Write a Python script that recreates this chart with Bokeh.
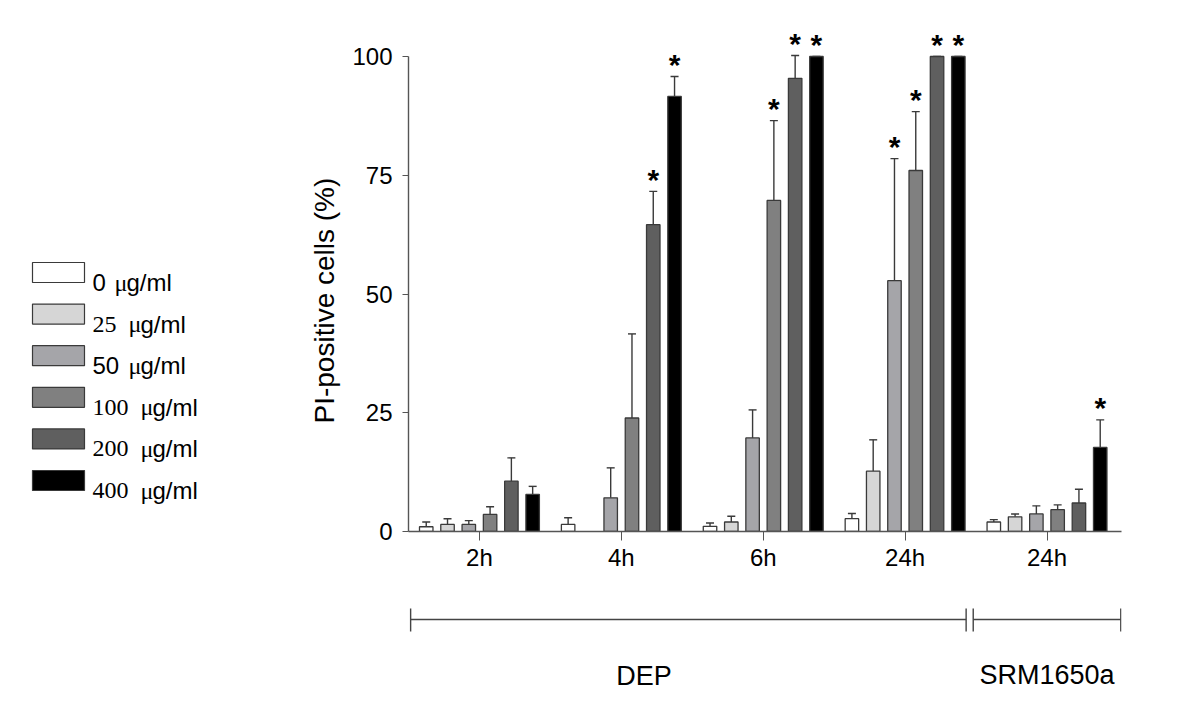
from bokeh.plotting import figure
from bokeh.models import Range1d, FixedTicker, Whisker, TeeHead, ColumnDataSource, Title
from bokeh.layouts import row, column
from bokeh.core.properties import value
from bokeh.embed import file_html
from bokeh.resources import INLINE

# ---------------- data ----------------
group_labels = ["2h", "4h", "6h", "24h", "24h"]
concentrations = [0, 25, 50, 100, 200, 400]
unit_label = "\u03bcg/ml"

mean_0 = [1.0, 1.5, 1.1, 2.7, 2.0]
mean_25 = [1.5, None, 2.0, 12.7, 3.1]
mean_50 = [1.5, 7.1, 19.7, 52.8, 3.7]
mean_100 = [3.6, 23.9, 69.7, 76.0, 4.6]
mean_200 = [10.6, 64.6, 95.4, 100.0, 6.0]
mean_400 = [7.8, 91.6, 100.0, 100.0, 17.7]

err_0 = [1.0, 1.4, 0.7, 1.1, 0.5]
err_25 = [1.2, None, 1.2, 6.6, 0.6]
err_50 = [0.8, 6.3, 5.9, 25.7, 1.7]
err_100 = [1.6, 17.7, 16.8, 12.4, 1.0]
err_200 = [4.9, 7.0, 4.8, 0.0, 2.9]
err_400 = [1.7, 4.2, 0.0, 0.0, 5.8]

sig_0 = [0, 0, 0, 0, 0]
sig_25 = [0, 0, 0, 0, 0]
sig_50 = [0, 0, 0, 1, 0]
sig_100 = [0, 0, 1, 1, 0]
sig_200 = [0, 1, 1, 1, 0]
sig_400 = [0, 1, 1, 1, 1]

y_ticks = [0, 25, 50, 75, 100]
y_label = "PI-positive cells (%)"
bracket_labels = ["DEP", "SRM1650a"]

means = [mean_0, mean_25, mean_50, mean_100, mean_200, mean_400]
errs = [err_0, err_25, err_50, err_100, err_200, err_400]
sigs = [sig_0, sig_25, sig_50, sig_100, sig_200, sig_400]

# ---------------- styling ----------------
fills = ["#ffffff", "#d6d6d6", "#a5a5a9", "#808080", "#5f5f5f", "#000000"]
edge = "#3a3a3a"
SANS = "Liberation Sans"
SERIF = "Liberation Serif"
num_fonts = [SANS, SERIF, SANS, SERIF, SERIF, SERIF]

PX_PER_UNIT = 4.75
FRAME_H = 501
X_END = 4.525
FRAME_W = 713
LEG_W = 298
MAIN_W, MAIN_H = 894, 591
LEFT_B, TOP_B = 110, 30
RIGHT_B = MAIN_W - LEFT_B - FRAME_W
BR_H = 105

slot = 0.15
bar_w = 0.095

# ---------------- main chart ----------------
xr = Range1d(-0.5, X_END)
p = figure(width=MAIN_W, height=MAIN_H,
           x_range=xr, y_range=Range1d(0, FRAME_H / PX_PER_UNIT),
           output_backend="svg", toolbar_location=None,
           min_border_left=LEFT_B, min_border_right=RIGHT_B,
           min_border_top=TOP_B, min_border_bottom=MAIN_H - TOP_B - FRAME_H,
           outline_line_color=None)
p.xgrid.visible = False
p.ygrid.visible = False

for j, (m, e, s) in enumerate(zip(means, errs, sigs)):
    xs, tops, ups, sx, sy = [], [], [], [], []
    for g in range(len(group_labels)):
        if m[g] is None:
            continue
        x = g + (j - 2.5) * slot
        xs.append(x)
        tops.append(m[g])
        ups.append(m[g] + e[g])
        if s[g]:
            sx.append(x)
            sy.append(m[g] + e[g])
    src = ColumnDataSource(dict(x=xs, top=tops, upper=ups))
    p.vbar(x="x", top="top", bottom=0, width=bar_w, source=src,
           fill_color=fills[j], line_color=edge, line_width=1.3)
    w = Whisker(base="x", lower="top", upper="upper", source=src, dimension="height",
                line_color="#3a3a3a", line_width=1.4,
                upper_head=TeeHead(size=8, line_color="#3a3a3a", line_width=1.4),
                lower_head=None)
    p.add_layout(w)
    if sx:
        p.text(x=sx, y=sy, text=["*"] * len(sx), text_align="center",
               text_baseline="alphabetic", y_offset=-12,
               text_font=value(SANS), text_font_size="30px", text_font_style="bold",
               text_color="black")

yax = p.yaxis[0]
yax.ticker = FixedTicker(ticks=y_ticks)
yax.bounds = (0, 100)
yax.axis_line_color = "#555555"
yax.axis_line_width = 1.4
yax.major_tick_line_color = "#555555"
yax.major_tick_out = 6
yax.major_tick_in = 0
yax.minor_tick_line_color = None
yax.major_label_text_font = SANS
yax.major_label_text_font_size = "24px"
yax.major_label_text_color = "black"
yax.major_label_standoff = 10

# y-axis title, placed along the 0-100 part of the axis
ytitle = Title(text=y_label, align="left", offset=108, standoff=16, vertical_align="top",
               text_font=SANS, text_font_size="28px", text_font_style="normal",
               text_color="black")
p.add_layout(ytitle, "left")

xax = p.xaxis[0]
xax.ticker = FixedTicker(ticks=list(range(len(group_labels))))
xax.major_label_overrides = {i: lab for i, lab in enumerate(group_labels)}
xax.axis_line_color = "#555555"
xax.axis_line_width = 1.4
xax.major_tick_line_color = "#555555"
xax.major_tick_out = 9
xax.major_tick_in = 0
xax.minor_tick_line_color = None
xax.major_label_text_font = SANS
xax.major_label_text_font_size = "24px"
xax.major_label_text_color = "black"
xax.major_label_standoff = 3

# ---------------- bracket under the chart (frame aligned with chart) ----------------
b = figure(width=MAIN_W, height=BR_H, x_range=xr, y_range=Range1d(BR_H, 0),
           x_axis_type=None, y_axis_type=None,
           min_border_left=LEFT_B, min_border_right=RIGHT_B,
           min_border_top=0, min_border_bottom=0,
           outline_line_color=None, toolbar_location=None, output_backend="svg")
b.xgrid.visible = False
b.ygrid.visible = False
seg_x0 = [-0.485, 3.48]
seg_x1 = [3.43, 4.52]
b.segment(x0=seg_x0, y0=[28, 28], x1=seg_x1, y1=[28, 28], line_color="#444444", line_width=1.4)
tick_x = [-0.485, 3.43, 3.48, 4.52]
b.segment(x0=tick_x, y0=[17] * 4, x1=tick_x, y1=[40] * 4, line_color="#444444", line_width=1.4)
b.text(x=[1.16, 4.0], y=[84, 83], text=bracket_labels, text_align="center",
       text_baseline="alphabetic", text_font=value(SANS), text_font_size="27px",
       text_color="black")

# ---------------- legend panel ----------------
TOT_H = MAIN_H + BR_H
L = figure(width=LEG_W, height=TOT_H,
           x_range=Range1d(0, LEG_W), y_range=Range1d(TOT_H, 0),
           x_axis_type=None, y_axis_type=None, min_border=0,
           outline_line_color=None, toolbar_location=None, output_backend="svg")
L.xgrid.visible = False
L.ygrid.visible = False
pitch = 41.6
box_tops = [262 + k * pitch for k in range(len(concentrations))]
L.quad(left=[32] * 6, right=[84] * 6, top=box_tops, bottom=[t + 20 for t in box_tops],
       fill_color=fills, line_color=edge, line_width=1.2)
mu_x = [114, 128, 128, 140, 140, 140]
for k, c in enumerate(concentrations):
    base = box_tops[k] + 20
    L.text(x=[92], y=[base], text=[str(c)], text_align="left", text_baseline="alphabetic",
           text_font=value(num_fonts[k]), text_font_size="24px", text_color="black")
    L.text(x=[mu_x[k]], y=[base], text=[unit_label[0]], text_align="left",
           text_baseline="alphabetic", text_font=value(SERIF), text_font_size="24px",
           text_color="black")
    L.text(x=[mu_x[k] + 12], y=[base], text=[unit_label[1:]], text_align="left",
           text_baseline="alphabetic", text_font=value(SANS), text_font_size="24px",
           text_color="black")

layout = row(L, column(p, b))
open("out.html", "w").write(file_html(layout, INLINE))
